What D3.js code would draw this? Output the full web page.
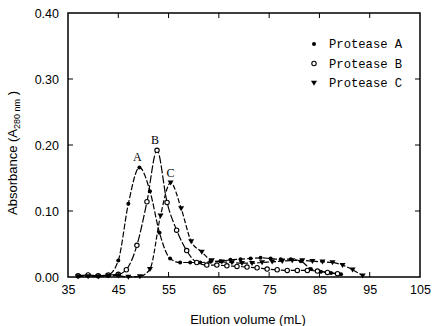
<!DOCTYPE html>
<html><head><meta charset="utf-8">
<script src="https://cdn.jsdelivr.net/npm/d3@7"></script>
<style>body{margin:0;background:#fff}</style>
</head><body>
<svg id="c" width="433" height="326"></svg>
<script>
const volA = [37,39,41,43,45,47,49.2,51.3,53.2,55.3,57.3,59.3,61.3,63.3,65.3,67.3,69.3,71.3,73.3,75.3,77.3,79.3,81.3,83.3,85.3,87.3,89.3];
const absA = [0.002,0.002,0.001,0.003,0.025,0.111,0.166,0.130,0.067,0.028,0.022,0.022,0.022,0.023,0.024,0.026,0.027,0.028,0.029,0.028,0.027,0.027,0.024,0.012,0.008,0.006,0.004];
const volB = [37,39,41,43,45,46.6,48.7,50.7,52.7,54.7,56.6,58.6,60.6,62.6,64.6,66.6,68.6,70.6,72.6,74.6,76.6,78.6,80.6,82.6,84.6,86.6,88.6];
const absB = [0.002,0.003,0.002,0.003,0.004,0.011,0.048,0.114,0.192,0.113,0.071,0.040,0.022,0.018,0.018,0.017,0.016,0.015,0.014,0.012,0.011,0.010,0.010,0.010,0.009,0.007,0.005];
const volC = [37,39,41,43,45,47,49.3,51.3,53.4,55.4,57.5,59.5,61.6,63.6,65.6,67.6,69.6,71.6,73.6,75.6,77.6,79.6,81.6,83.6,85.6,87.6,89.6,91.6,93.6];
const absC = [0.001,0.001,0.001,0.002,0.002,0.000,0.001,0.012,0.093,0.143,0.104,0.054,0.038,0.025,0.023,0.022,0.021,0.021,0.022,0.023,0.024,0.025,0.025,0.024,0.023,0.022,0.018,0.011,0.002];
const seriesNames = ["Protease A","Protease B","Protease C"];
const peakLabels = ["A","B","C"];
const xTicks = [35,45,55,65,75,85,95,105];
const yTicks = [0,0.1,0.2,0.3,0.4];

const svg = d3.select("#c");
const L=68,R=420,T=13,B=277;
const x = d3.scaleLinear().domain([35,105]).range([L,R]);
const y = d3.scaleLinear().domain([0,0.4]).range([B,T]);

const series = [
  {name:seriesNames[0], v:volA, a:absA, sym:"circle", fill:"#000", dash:"6,2"},
  {name:seriesNames[1], v:volB, a:absB, sym:"circle", fill:"#fff", dash:"8,2"},
  {name:seriesNames[2], v:volC, a:absC, sym:"triangle", fill:"#000", dash:"5,2"}
];

const line = d3.line().x(d=>x(d[0])).y(d=>y(d[1])).curve(d3.curveMonotoneX);
series.forEach(s=>{
  const pts = s.v.map((v,i)=>[v,s.a[i]]);
  svg.append("path").attr("d",line(pts)).attr("fill","none").attr("stroke","#000")
    .attr("stroke-width",1.2).attr("stroke-dasharray",s.dash);
  pts.forEach(p=>drawSym(svg,s,x(p[0]),y(p[1])));
});

function drawSym(g,s,cx,cy){
  if(s.sym==="circle"){
    if(s.fill==="#000") g.append("circle").attr("cx",cx).attr("cy",cy).attr("r",2).attr("fill","#000");
    else g.append("circle").attr("cx",cx).attr("cy",cy).attr("r",2.2).attr("fill","#fff").attr("stroke","#000").attr("stroke-width",1.1);
  } else {
    g.append("path").attr("d",`M${cx-3},${cy-2.2}L${cx+3},${cy-2.2}L${cx},${cy+2.8}Z`).attr("fill","#000");
  }
}

// frame
svg.append("rect").attr("x",L).attr("y",T).attr("width",R-L).attr("height",B-T)
  .attr("fill","none").attr("stroke","#000").attr("stroke-width",1.5);

// axes with inward ticks
const xa = d3.axisBottom(x).tickValues(xTicks).tickSize(0).tickPadding(8).tickFormat(d3.format("d"));
const gx = svg.append("g").attr("transform",`translate(0,${B})`).call(xa);
gx.select(".domain").remove();
gx.selectAll("text").attr("font-family","Liberation Sans, Arial, sans-serif").attr("font-size",12.5).attr("fill","#000");
const ya = d3.axisLeft(y).tickValues(yTicks).tickSize(0).tickPadding(9).tickFormat(d3.format(".2f"));
const gy = svg.append("g").attr("transform",`translate(${L},0)`).call(ya);
gy.select(".domain").remove();
gy.selectAll("text").attr("font-family","Liberation Sans, Arial, sans-serif").attr("font-size",12.5).attr("fill","#000");

const tk = svg.append("g").attr("stroke","#000").attr("stroke-width",1);
xTicks.slice(1,-1).forEach(t=>{
  tk.append("line").attr("x1",x(t)).attr("x2",x(t)).attr("y1",B).attr("y2",B-5);
  tk.append("line").attr("x1",x(t)).attr("x2",x(t)).attr("y1",T).attr("y2",T+5);
});
yTicks.slice(1,-1).forEach(t=>{
  tk.append("line").attr("x1",L).attr("x2",L+5).attr("y1",y(t)).attr("y2",y(t));
  tk.append("line").attr("x1",R).attr("x2",R-5).attr("y1",y(t)).attr("y2",y(t));
});

// axis titles
svg.append("text").attr("x",(L+R)/2+4).attr("y",324).attr("text-anchor","middle")
  .attr("font-family","Liberation Sans, Arial, sans-serif").attr("font-size",13).text("Elution volume (mL)");
const yt = svg.append("text").attr("transform","translate(17,153) rotate(-90)").attr("text-anchor","middle")
  .attr("font-family","Liberation Sans, Arial, sans-serif").attr("font-size",13);
yt.append("tspan").text("Absorbance (A");
yt.append("tspan").attr("font-size",9).attr("dy",3).text("280 nm");
yt.append("tspan").attr("dy",-3).text(" )");

// peak labels
const peaks = [[volA,absA],[volB,absB],[volC,absC]];
peaks.forEach((p,i)=>{
  const k = d3.maxIndex(p[1]);
  svg.append("text").attr("x",x(p[0][k])-(i===2?0:2)).attr("y",y(p[1][k])-6).attr("text-anchor","middle")
    .attr("font-family","Liberation Serif, Times New Roman, serif").attr("font-size",12).text(peakLabels[i]);
});

// legend
series.forEach((s,i)=>{
  const ly = 44 + i*19.5;
  drawSym(svg,s,314,ly);
  svg.append("text").attr("x",329).attr("y",ly+4).attr("font-family","Liberation Mono, Courier New, monospace")
    .attr("font-size",12.2).text(s.name);
});
</script>
</body></html>
